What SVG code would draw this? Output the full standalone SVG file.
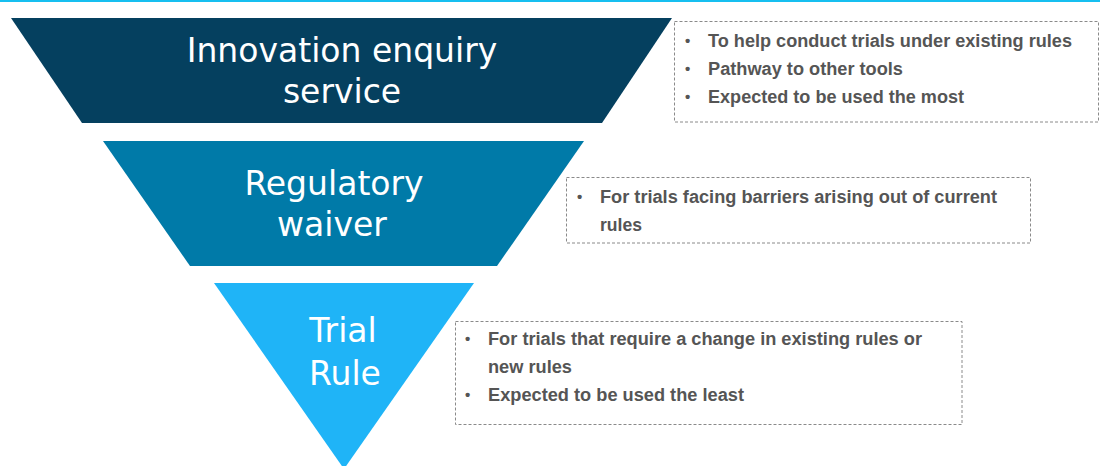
<svg xmlns="http://www.w3.org/2000/svg" width="1100" height="466" viewBox="0 0 1100 466">
<style>
.lbl{font-family:"DejaVu Sans","Liberation Sans",sans-serif;font-size:33px;fill:#ffffff;text-anchor:middle}
.box{fill:#ffffff;stroke:#8a8a8a;stroke-width:1;stroke-dasharray:3 2}
.txt{font-family:"Liberation Sans",Arial,sans-serif;font-weight:bold;font-size:18px;fill:#555555}
.bul{font-family:"Liberation Sans",Arial,sans-serif;font-weight:bold;font-size:15px;fill:#555555}
</style>
<rect x="0" y="0" width="1100" height="466" fill="#ffffff"/>
<rect x="0" y="0" width="1100" height="2" fill="#17bff0"/>
<g id="tier1">
<polygon points="11,18 672,18 602,123 82,123" fill="#05405f"/>
<text class="lbl" x="342" y="62">Innovation enquiry</text>
<text class="lbl" x="342" y="103">service</text>
</g>
<g id="tier2">
<polygon points="103,141 584,141 497,266 190,266" fill="#007aa8"/>
<text class="lbl" x="334" y="195">Regulatory</text>
<text class="lbl" x="332" y="236">waiver</text>
</g>
<g id="tier3">
<polygon points="214,283 474,283 344,469" fill="#1fb4f7"/>
<text class="lbl" x="343" y="342">Trial</text>
<text class="lbl" x="345" y="385">Rule</text>
</g>
<g id="note1">
<rect class="box" x="674.5" y="21.5" width="424" height="100.5"/>
<text class="bul" x="685" y="46">•</text>
<text class="bul" x="685" y="74">•</text>
<text class="bul" x="685" y="102">•</text>
<text class="txt" x="708" y="47" textLength="364" lengthAdjust="spacingAndGlyphs">To help conduct trials under existing rules</text>
<text class="txt" x="708" y="75" textLength="195" lengthAdjust="spacingAndGlyphs">Pathway to other tools</text>
<text class="txt" x="708" y="103" textLength="256" lengthAdjust="spacingAndGlyphs">Expected to be used the most</text>
</g>
<g id="note2">
<rect class="box" x="566.5" y="177.5" width="464" height="65.5"/>
<text class="bul" x="577" y="202">•</text>
<text class="txt" x="600" y="203" textLength="397" lengthAdjust="spacingAndGlyphs">For trials facing barriers arising out of current</text>
<text class="txt" x="600" y="231" textLength="42" lengthAdjust="spacingAndGlyphs">rules</text>
</g>
<g id="note3">
<rect class="box" x="455.5" y="321.5" width="506.5" height="103"/>
<text class="bul" x="465" y="344">•</text>
<text class="bul" x="465" y="400">•</text>
<text class="txt" x="488" y="345" textLength="434" lengthAdjust="spacingAndGlyphs">For trials that require a change in existing rules or</text>
<text class="txt" x="488" y="373" textLength="84" lengthAdjust="spacingAndGlyphs">new rules</text>
<text class="txt" x="488" y="401" textLength="256" lengthAdjust="spacingAndGlyphs">Expected to be used the least</text>
</g>
</svg>
